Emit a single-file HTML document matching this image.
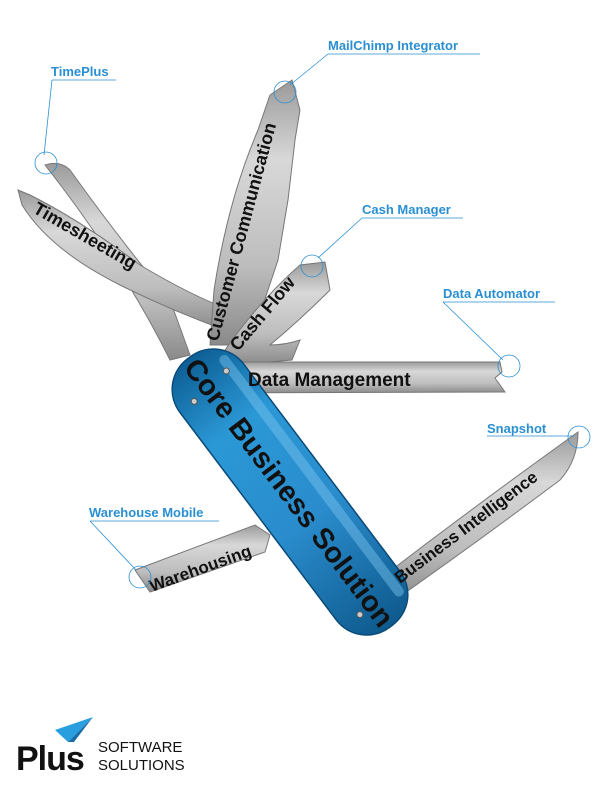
<!DOCTYPE html>
<html><head><style>
html,body{margin:0;padding:0;background:#fff}
svg{display:block}
.lb{font-family:"Liberation Sans",sans-serif;font-weight:bold;font-size:13px;fill:#2a8fd2}
.bt{font-family:"Liberation Sans",sans-serif;font-weight:bold;fill:#111}
</style></head><body>
<svg width="612" height="792" viewBox="0 0 612 792" xmlns="http://www.w3.org/2000/svg">
<defs>
<linearGradient id="m" x1="0" y1="0" x2="0" y2="1">
<stop offset="0" stop-color="#9a9a9a"/><stop offset="0.3" stop-color="#d8d8d8"/><stop offset="0.7" stop-color="#bdbdbd"/><stop offset="1" stop-color="#8a8a8a"/></linearGradient>
<linearGradient id="b" x1="0" y1="0" x2="1" y2="0">
<stop offset="0" stop-color="#0d5f95"/><stop offset="0.25" stop-color="#2b98d6"/><stop offset="0.6" stop-color="#2a8ccc"/><stop offset="1" stop-color="#0e5a8e"/></linearGradient>
</defs>
<g stroke="#777" stroke-width="1" fill="url(#m)">
<path d="M45,165 Q60,160 70,170 Q120,240 170,300 L190,355 L170,360 Q120,260 45,165 Z"/>
<path d="M18,190 L30,195 Q80,220 140,265 Q190,295 230,310 L225,330 Q170,310 120,285 Q50,250 22,205 Z"/>
<path d="M270,95 L292,80 L300,110 L295,140 L288,200 L278,260 L258,320 L232,345 L210,345 L214,290 Q228,200 258,130 Z"/>
<path d="M225,350 Q260,300 300,265 L325,262 L330,290 Q300,320 270,345 Q285,345 300,340 L292,360 L230,365 Z"/>
<path d="M195,362 L500,362 L502,372 L495,378 L505,392 L195,393 Z"/>
<path d="M135,570 L255,525 L270,535 L265,552 L150,592 Z"/>
<path d="M385,575 Q470,510 560,445 L578,432 Q578,460 560,480 Q480,540 395,600 Z"/>
</g>
<g transform="translate(290,492) rotate(53)">
<rect x="-168" y="-40" width="336" height="80" rx="38" fill="url(#b)" stroke="#0a4a78" stroke-width="1.5"/>
<rect x="-150" y="-32" width="300" height="10" rx="5" fill="#7cc6f0" opacity="0.45"/>
<circle cx="-135" cy="-22" r="3" fill="#ccc" stroke="#555"/>
<circle cx="-130" cy="22" r="3" fill="#ccc" stroke="#555"/>
<circle cx="140" cy="18" r="3" fill="#ccc" stroke="#555"/>
<text class="bt" x="0" y="11" font-size="29" text-anchor="middle">Core Business Solution</text>
</g>
<text class="bt" font-size="18" transform="translate(32,212) rotate(30)">Timesheeting</text>
<text class="bt" font-size="18" transform="translate(218,342) rotate(-75)">Customer Communication</text>
<text class="bt" font-size="18" transform="translate(238,352) rotate(-50)">Cash Flow</text>
<text class="bt" font-size="19" x="248" y="386">Data Management</text>
<text class="bt" font-size="17" transform="translate(152,592) rotate(-20)">Warehousing</text>
<text class="bt" font-size="17" transform="translate(400,584) rotate(-37)">Business Intelligence</text>
<g stroke="#2a8fd2" fill="none" stroke-width="0.8">
<circle cx="46" cy="163" r="11"/><line x1="52" y1="80" x2="44" y2="155"/><line x1="52" y1="80" x2="116" y2="80"/>
<circle cx="285" cy="92" r="11"/><line x1="290" y1="85" x2="328" y2="54"/><line x1="328" y1="54" x2="480" y2="54"/>
<circle cx="312" cy="266" r="11"/><line x1="318" y1="258" x2="362" y2="218"/><line x1="362" y1="218" x2="463" y2="218"/>
<circle cx="509" cy="366" r="11"/><line x1="443" y1="302" x2="503" y2="360"/><line x1="443" y1="302" x2="555" y2="302"/>
<circle cx="579" cy="437" r="11"/><line x1="487" y1="436" x2="574" y2="436"/>
<circle cx="140" cy="577" r="11"/><line x1="90" y1="521" x2="136" y2="570"/><line x1="90" y1="521" x2="219" y2="521"/>
</g>
<text class="lb" x="51" y="76">TimePlus</text>
<text class="lb" x="328" y="50">MailChimp Integrator</text>
<text class="lb" x="362" y="214">Cash Manager</text>
<text class="lb" x="443" y="298">Data Automator</text>
<text class="lb" x="487" y="433">Snapshot</text>
<text class="lb" x="89" y="517">Warehouse Mobile</text>
<polygon points="55,730 93,717 68,742" fill="#2a9fe0"/>
<polygon points="68,742 93,717 74,742" fill="#1a6ea8"/>
<text x="16" y="770" font-family="Liberation Sans,sans-serif" font-weight="bold" font-size="34" fill="#111" letter-spacing="-1">Plus</text>
<text x="98" y="752" font-family="Liberation Sans,sans-serif" font-size="15" fill="#111">SOFTWARE</text>
<text x="98" y="770" font-family="Liberation Sans,sans-serif" font-size="15" fill="#111">SOLUTIONS</text>
</svg>
</body></html>
